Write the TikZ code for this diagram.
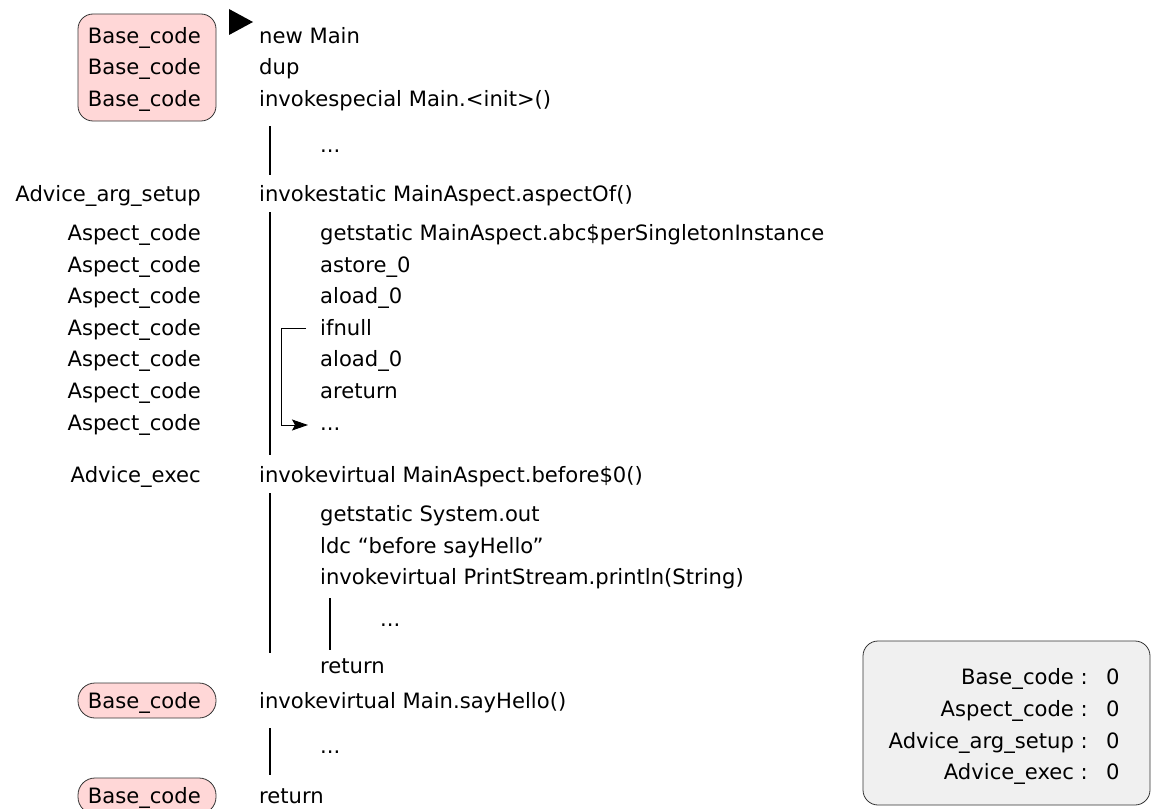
\documentclass[tikz,border=0pt]{standalone}
\usepackage{fontspec}
\setmainfont{DejaVu Sans}
\usetikzlibrary{arrows.meta}
\definecolor{basepink}{RGB}{255,215,215}
\definecolor{legendgray}{RGB}{240,240,240}
\tikzset{
  code/.style={anchor=base west,inner sep=0pt,font=\fontsize{21.2}{25}\selectfont},
  tag/.style={anchor=base east,inner sep=0pt,font=\fontsize{21.2}{25}\selectfont},
  flow/.style={line width=1.2pt},
  basebox/.style={draw=black!80,fill=basepink,line width=0.8pt},
  legendbox/.style={draw=black!80,fill=legendgray,line width=0.8pt,rounded corners=15bp},
  jump/.style={line width=1pt,-{Stealth[length=16bp,width=11bp,inset=3bp]}},
}
\begin{document}
\begin{tikzpicture}[x=1bp,y=-1bp]
\useasboundingbox (0,0) rectangle (1151,809);

% highlighted base-code markers
\draw[basebox,rounded corners=15bp] (78,14) rectangle (216,121);
\draw[basebox,rounded corners=17bp] (78,683) rectangle (216,718);
\draw[basebox,rounded corners=17bp] (78,778) rectangle (216,814);

% entry marker
\fill (229,9) -- (253,22) -- (229,35) -- cycle;

% left column: instruction categories
\node[tag] (t1) at (201,44) {Base\_code};
\node[tag] (t2) at (201,75) {Base\_code};
\node[tag] (t3) at (201,107) {Base\_code};
\node[tag] (t4) at (201,201) {Advice\_arg\_setup};
\node[tag] (t5) at (201,240) {Aspect\_code};
\node[tag] (t6) at (201,272) {Aspect\_code};
\node[tag] (t7) at (201,303) {Aspect\_code};
\node[tag] (t8) at (201,335) {Aspect\_code};
\node[tag] (t9) at (201,366) {Aspect\_code};
\node[tag] (t10) at (201,398) {Aspect\_code};
\node[tag] (t11) at (201,430) {Aspect\_code};
\node[tag] (t12) at (201,482) {Advice\_exec};
\node[tag] (t13) at (201,708) {Base\_code};
\node[tag] (t14) at (201,803) {Base\_code};

% bytecode listing
\node[code] (c1) at (259,44) {new Main};
\node[code] (c2) at (259,75) {dup};
\node[code] (c3) at (259,107) {invokespecial Main.<init>()};
\node[code] (d1) at (320,152) {...};
\node[code] (c4) at (259,201) {invokestatic MainAspect.aspectOf()};
\node[code] (c5) at (320,240) {getstatic MainAspect.abc\$perSingletonInstance};
\node[code] (c6) at (320,272) {astore\_0};
\node[code] (c7) at (320,303) {aload\_0};
\node[code] (ifnull) at (320,335) {ifnull};
\node[code] (c9) at (320,366) {aload\_0};
\node[code] (c10) at (320,398) {areturn};
\node[code] (d2) at (320,430) {...};
\node[code] (c12) at (259,482) {invokevirtual MainAspect.before\$0()};
\node[code] (c13) at (320,521) {getstatic System.out};
\node[code] (c14) at (320,553) {ldc “before sayHello”};
\node[code] (c15) at (320,584) {invokevirtual PrintStream.println(String)};
\node[code] (d3) at (380,626) {...};
\node[code] (c16) at (320,673) {return};
\node[code] (c17) at (259,708) {invokevirtual Main.sayHello()};
\node[code] (d4) at (320,753) {...};
\node[code] (c18) at (259,803) {return};

% nesting bars
\coordinate (b1a) at (270,126); \coordinate (b1b) at (270,175);
\coordinate (b2a) at (270,212); \coordinate (b2b) at (270,455);
\coordinate (b3a) at (270,493); \coordinate (b3b) at (270,653);
\coordinate (b4a) at (330,598); \coordinate (b4b) at (330,650);
\coordinate (b5a) at (270,728); \coordinate (b5b) at (270,775);
\draw[flow] (b1a) -- (b1b);
\draw[flow] (b2a) -- (b2b);
\draw[flow] (b3a) -- (b3b);
\draw[flow] (b4a) -- (b4b);
\draw[flow] (b5a) -- (b5b);

% branch taken by ifnull
\coordinate (jmp) at (281,0);
\draw[jump]
  ([xshift=-14bp,yshift=7bp]ifnull.base west) -- ([yshift=7bp]jmp |- ifnull.base)
  |- ([xshift=-12bp,yshift=5bp]d2.base west);

% counters
\draw[legendbox] (863,641) rectangle (1150,805);
\node[tag] (l1) at (1088,684) {Base\_code :};
\node[tag] (l2) at (1088,716) {Aspect\_code :};
\node[tag] (l3) at (1088,748) {Advice\_arg\_setup :};
\node[tag] (l4) at (1088,779) {Advice\_exec :};
\node[code] (v1) at (1106,684) {0};
\node[code] (v2) at (1106,716) {0};
\node[code] (v3) at (1106,748) {0};
\node[code] (v4) at (1106,779) {0};
\end{tikzpicture}
\end{document}
